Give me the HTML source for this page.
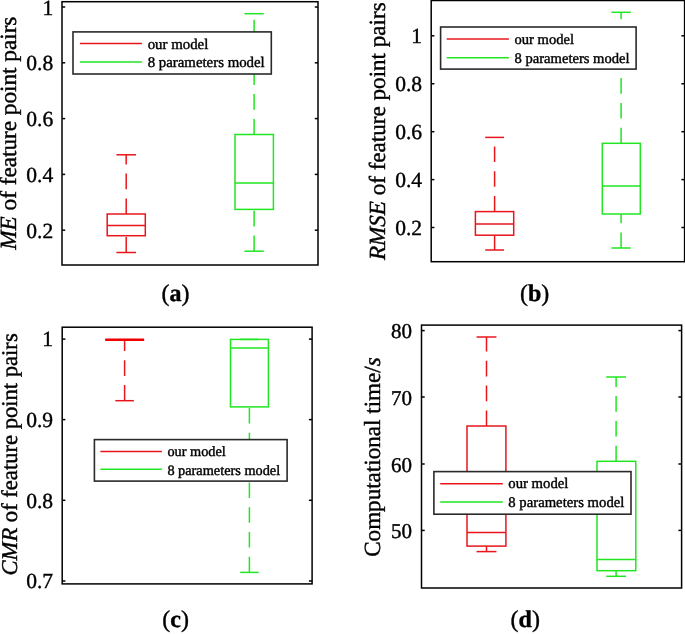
<!DOCTYPE html>
<html><head><meta charset="utf-8"><title>Boxplots</title>
<style>
html,body{margin:0;padding:0;background:#fff;width:685px;height:634px;overflow:hidden}
svg{display:block;will-change:transform}
text{text-rendering:geometricPrecision;font-family:"Liberation Serif",serif;fill:#000;stroke:#000;stroke-width:0.4px}
</style></head>
<body>
<svg width="685" height="634" viewBox="0 0 685 634">
<rect width="685" height="634" fill="#fff"/>
<rect x="62" y="1.7" width="256.0" height="263.3" fill="none" stroke="#000" stroke-width="1.5"/>
<line x1="62" y1="7" x2="65.2" y2="7" stroke="#000" stroke-width="1.5"/>
<line x1="318.0" y1="7" x2="314.8" y2="7" stroke="#000" stroke-width="1.5"/>
<text x="53.2" y="14.6" font-size="21.5" text-anchor="end">1</text>
<line x1="62" y1="62.8" x2="65.2" y2="62.8" stroke="#000" stroke-width="1.5"/>
<line x1="318.0" y1="62.8" x2="314.8" y2="62.8" stroke="#000" stroke-width="1.5"/>
<text x="53.2" y="70.4" font-size="21.5" text-anchor="end">0.8</text>
<line x1="62" y1="118.6" x2="65.2" y2="118.6" stroke="#000" stroke-width="1.5"/>
<line x1="318.0" y1="118.6" x2="314.8" y2="118.6" stroke="#000" stroke-width="1.5"/>
<text x="53.2" y="126.2" font-size="21.5" text-anchor="end">0.6</text>
<line x1="62" y1="174.4" x2="65.2" y2="174.4" stroke="#000" stroke-width="1.5"/>
<line x1="318.0" y1="174.4" x2="314.8" y2="174.4" stroke="#000" stroke-width="1.5"/>
<text x="53.2" y="182.0" font-size="21.5" text-anchor="end">0.4</text>
<line x1="62" y1="230.2" x2="65.2" y2="230.2" stroke="#000" stroke-width="1.5"/>
<line x1="318.0" y1="230.2" x2="314.8" y2="230.2" stroke="#000" stroke-width="1.5"/>
<text x="53.2" y="237.8" font-size="21.5" text-anchor="end">0.2</text>
<line x1="126.2" y1="252.5" x2="126.2" y2="235.7" stroke="#e8161c" stroke-width="1.5" stroke-dasharray="15.6 9.2"/>
<line x1="126.2" y1="214.0" x2="126.2" y2="154.8" stroke="#e8161c" stroke-width="1.5" stroke-dasharray="15.6 9.2"/>
<line x1="116.4" y1="154.8" x2="136.0" y2="154.8" stroke="#e8161c" stroke-width="1.5"/>
<line x1="116.4" y1="252.5" x2="136.0" y2="252.5" stroke="#e8161c" stroke-width="1.5"/>
<rect x="107.2" y="214.0" width="38.10000000000001" height="21.69999999999999" fill="none" stroke="#e8161c" stroke-width="1.5"/>
<line x1="107.2" y1="225.5" x2="145.3" y2="225.5" stroke="#e8161c" stroke-width="1.5"/>
<line x1="254.1" y1="251.2" x2="254.1" y2="209.4" stroke="#22e622" stroke-width="1.5" stroke-dasharray="15.6 9.2"/>
<line x1="254.1" y1="134.5" x2="254.1" y2="13.7" stroke="#22e622" stroke-width="1.5" stroke-dasharray="15.6 9.2"/>
<line x1="244.4" y1="13.7" x2="263.8" y2="13.7" stroke="#22e622" stroke-width="1.5"/>
<line x1="244.4" y1="251.2" x2="263.8" y2="251.2" stroke="#22e622" stroke-width="1.5"/>
<rect x="235.0" y="134.5" width="38.39999999999998" height="74.9" fill="none" stroke="#22e622" stroke-width="1.5"/>
<line x1="235.0" y1="183.0" x2="273.4" y2="183.0" stroke="#22e622" stroke-width="1.5"/>
<rect x="73.0" y="31.9" width="198.3" height="42.1" fill="#fff" stroke="#2a2a2a" stroke-width="1.6"/>
<line x1="79.9" y1="43.6" x2="141.9" y2="43.6" stroke="#e8161c" stroke-width="1.5"/>
<line x1="79.9" y1="61.9" x2="141.9" y2="61.9" stroke="#22e622" stroke-width="1.5"/>
<text x="147.7" y="49" font-size="14.85" text-anchor="start">our model</text>
<text x="147.7" y="67" font-size="14.85" text-anchor="start">8 parameters model</text>
<text transform="translate(16.0,249.7) rotate(-90)" font-size="23.2" text-anchor="start"><tspan font-style="italic">ME</tspan> of feature point pairs</text>
<text x="175.5" y="301" font-size="24" text-anchor="middle">(<tspan font-weight="bold">a</tspan>)</text>
<rect x="431.2" y="0.5" width="253.40000000000003" height="261.2" fill="none" stroke="#000" stroke-width="1.5"/>
<line x1="431.2" y1="35.8" x2="434.4" y2="35.8" stroke="#000" stroke-width="1.5"/>
<line x1="684.6" y1="35.8" x2="681.4" y2="35.8" stroke="#000" stroke-width="1.5"/>
<text x="422.0" y="43.1" font-size="21.5" text-anchor="end">1</text>
<line x1="431.2" y1="83.75" x2="434.4" y2="83.75" stroke="#000" stroke-width="1.5"/>
<line x1="684.6" y1="83.75" x2="681.4" y2="83.75" stroke="#000" stroke-width="1.5"/>
<text x="422.0" y="91.05" font-size="21.5" text-anchor="end">0.8</text>
<line x1="431.2" y1="131.7" x2="434.4" y2="131.7" stroke="#000" stroke-width="1.5"/>
<line x1="684.6" y1="131.7" x2="681.4" y2="131.7" stroke="#000" stroke-width="1.5"/>
<text x="422.0" y="139.0" font-size="21.5" text-anchor="end">0.6</text>
<line x1="431.2" y1="179.6" x2="434.4" y2="179.6" stroke="#000" stroke-width="1.5"/>
<line x1="684.6" y1="179.6" x2="681.4" y2="179.6" stroke="#000" stroke-width="1.5"/>
<text x="422.0" y="186.9" font-size="21.5" text-anchor="end">0.4</text>
<line x1="431.2" y1="227.5" x2="434.4" y2="227.5" stroke="#000" stroke-width="1.5"/>
<line x1="684.6" y1="227.5" x2="681.4" y2="227.5" stroke="#000" stroke-width="1.5"/>
<text x="422.0" y="234.8" font-size="21.5" text-anchor="end">0.2</text>
<line x1="494.6" y1="250.0" x2="494.6" y2="235.2" stroke="#e8161c" stroke-width="1.5" stroke-dasharray="15.6 9.2"/>
<line x1="494.6" y1="211.6" x2="494.6" y2="137.4" stroke="#e8161c" stroke-width="1.5" stroke-dasharray="15.6 9.2"/>
<line x1="485.20000000000005" y1="137.4" x2="504.0" y2="137.4" stroke="#e8161c" stroke-width="1.5"/>
<line x1="485.20000000000005" y1="250.0" x2="504.0" y2="250.0" stroke="#e8161c" stroke-width="1.5"/>
<rect x="475.4" y="211.6" width="38.30000000000007" height="23.599999999999994" fill="none" stroke="#e8161c" stroke-width="1.5"/>
<line x1="475.4" y1="223.9" x2="513.7" y2="223.9" stroke="#e8161c" stroke-width="1.5"/>
<line x1="621.1" y1="248.0" x2="621.1" y2="214.0" stroke="#22e622" stroke-width="1.5" stroke-dasharray="15.6 9.2"/>
<line x1="621.1" y1="143.3" x2="621.1" y2="12.3" stroke="#22e622" stroke-width="1.5" stroke-dasharray="15.6 9.2"/>
<line x1="611.4" y1="12.3" x2="630.8000000000001" y2="12.3" stroke="#22e622" stroke-width="1.5"/>
<line x1="611.4" y1="248.0" x2="630.8000000000001" y2="248.0" stroke="#22e622" stroke-width="1.5"/>
<rect x="602.3" y="143.3" width="38.0" height="70.69999999999999" fill="none" stroke="#22e622" stroke-width="1.5"/>
<line x1="602.3" y1="186.1" x2="640.3" y2="186.1" stroke="#22e622" stroke-width="1.5"/>
<rect x="440.6" y="27.0" width="195.5" height="42.099999999999994" fill="#fff" stroke="#2a2a2a" stroke-width="1.6"/>
<line x1="446.7" y1="38.9" x2="508.9" y2="38.9" stroke="#e8161c" stroke-width="1.5"/>
<line x1="446.7" y1="57.7" x2="508.9" y2="57.7" stroke="#22e622" stroke-width="1.5"/>
<text x="514.5" y="44" font-size="14.6" text-anchor="start">our model</text>
<text x="514.5" y="63" font-size="14.6" text-anchor="start">8 parameters model</text>
<text transform="translate(385.1,260.1) rotate(-90)" font-size="23.1" text-anchor="start"><tspan font-style="italic">RMSE</tspan> of feature point pairs</text>
<text x="534.6" y="301" font-size="24" text-anchor="middle">(<tspan font-weight="bold">b</tspan>)</text>
<rect x="62.2" y="327.2" width="249.90000000000003" height="256.7" fill="none" stroke="#000" stroke-width="1.5"/>
<line x1="62.2" y1="339.1" x2="65.4" y2="339.1" stroke="#000" stroke-width="1.5"/>
<line x1="312.1" y1="339.1" x2="308.90000000000003" y2="339.1" stroke="#000" stroke-width="1.5"/>
<text x="53.1" y="346.4" font-size="21.5" text-anchor="end">1</text>
<line x1="62.2" y1="419.6" x2="65.4" y2="419.6" stroke="#000" stroke-width="1.5"/>
<line x1="312.1" y1="419.6" x2="308.90000000000003" y2="419.6" stroke="#000" stroke-width="1.5"/>
<text x="53.1" y="426.9" font-size="21.5" text-anchor="end">0.9</text>
<line x1="62.2" y1="500.3" x2="65.4" y2="500.3" stroke="#000" stroke-width="1.5"/>
<line x1="312.1" y1="500.3" x2="308.90000000000003" y2="500.3" stroke="#000" stroke-width="1.5"/>
<text x="53.1" y="507.6" font-size="21.5" text-anchor="end">0.8</text>
<line x1="62.2" y1="581.0" x2="65.4" y2="581.0" stroke="#000" stroke-width="1.5"/>
<line x1="312.1" y1="581.0" x2="308.90000000000003" y2="581.0" stroke="#000" stroke-width="1.5"/>
<text x="53.1" y="588.3" font-size="21.5" text-anchor="end">0.7</text>
<line x1="124.6" y1="400.7" x2="124.6" y2="339.7" stroke="#e8161c" stroke-width="1.5" stroke-dasharray="15.6 9.2"/>
<line x1="115.35" y1="339.7" x2="133.85" y2="339.7" stroke="#e8161c" stroke-width="1.5"/>
<line x1="115.35" y1="400.7" x2="133.85" y2="400.7" stroke="#e8161c" stroke-width="1.5"/>
<rect x="105.3" y="339.7" width="38.8" height="0.0" fill="none" stroke="#e8161c" stroke-width="1.5"/>
<line x1="105.3" y1="339.7" x2="144.1" y2="339.7" stroke="#e8161c" stroke-width="1.5"/>
<line x1="105.3" y1="339.8" x2="144.1" y2="339.8" stroke="#f00000" stroke-width="2.6"/>
<line x1="249.4" y1="572.4" x2="249.4" y2="406.9" stroke="#22e622" stroke-width="1.5" stroke-dasharray="15.6 9.2"/>
<line x1="240.20000000000002" y1="339.4" x2="258.6" y2="339.4" stroke="#22e622" stroke-width="1.5"/>
<line x1="240.20000000000002" y1="572.4" x2="258.6" y2="572.4" stroke="#22e622" stroke-width="1.5"/>
<rect x="230.5" y="339.4" width="37.89999999999998" height="67.5" fill="none" stroke="#22e622" stroke-width="1.5"/>
<line x1="230.5" y1="348.1" x2="268.4" y2="348.1" stroke="#22e622" stroke-width="1.5"/>
<rect x="94.4" y="439.6" width="192.70000000000002" height="41.5" fill="#fff" stroke="#2a2a2a" stroke-width="1.6"/>
<line x1="100.4" y1="451.4" x2="161.9" y2="451.4" stroke="#e8161c" stroke-width="1.5"/>
<line x1="100.4" y1="469.2" x2="161.9" y2="469.2" stroke="#22e622" stroke-width="1.5"/>
<text x="167.4" y="456" font-size="14.3" text-anchor="start">our model</text>
<text x="167.4" y="475" font-size="14.3" text-anchor="start">8 parameters model</text>
<text transform="translate(17.2,575.5) rotate(-90)" font-size="22.6" text-anchor="start"><tspan font-style="italic">CMR</tspan> of feature point pairs</text>
<text x="175.6" y="627" font-size="24" text-anchor="middle">(<tspan font-weight="bold">c</tspan>)</text>
<rect x="421.5" y="325.1" width="260.1" height="262.9" fill="none" stroke="#000" stroke-width="1.5"/>
<line x1="421.5" y1="330.6" x2="424.7" y2="330.6" stroke="#000" stroke-width="1.5"/>
<line x1="681.6" y1="330.6" x2="678.4" y2="330.6" stroke="#000" stroke-width="1.5"/>
<text x="412.0" y="338.4" font-size="21" text-anchor="end">80</text>
<line x1="421.5" y1="397.0" x2="424.7" y2="397.0" stroke="#000" stroke-width="1.5"/>
<line x1="681.6" y1="397.0" x2="678.4" y2="397.0" stroke="#000" stroke-width="1.5"/>
<text x="412.0" y="404.8" font-size="21" text-anchor="end">70</text>
<line x1="421.5" y1="464.0" x2="424.7" y2="464.0" stroke="#000" stroke-width="1.5"/>
<line x1="681.6" y1="464.0" x2="678.4" y2="464.0" stroke="#000" stroke-width="1.5"/>
<text x="412.0" y="471.8" font-size="21" text-anchor="end">60</text>
<line x1="421.5" y1="530.4" x2="424.7" y2="530.4" stroke="#000" stroke-width="1.5"/>
<line x1="681.6" y1="530.4" x2="678.4" y2="530.4" stroke="#000" stroke-width="1.5"/>
<text x="412.0" y="538.2" font-size="21" text-anchor="end">50</text>
<line x1="486.5" y1="551.6" x2="486.5" y2="546.1" stroke="#e8161c" stroke-width="1.5" stroke-dasharray="15.6 9.2"/>
<line x1="486.5" y1="426.0" x2="486.5" y2="337.0" stroke="#e8161c" stroke-width="1.5" stroke-dasharray="15.6 9.2"/>
<line x1="476.55" y1="337.0" x2="496.45" y2="337.0" stroke="#e8161c" stroke-width="1.5"/>
<line x1="476.55" y1="551.6" x2="496.45" y2="551.6" stroke="#e8161c" stroke-width="1.5"/>
<rect x="467.0" y="426.0" width="38.89999999999998" height="120.10000000000002" fill="none" stroke="#e8161c" stroke-width="1.5"/>
<line x1="467.0" y1="532.4" x2="505.9" y2="532.4" stroke="#e8161c" stroke-width="1.5"/>
<line x1="616.1" y1="576.3" x2="616.1" y2="570.7" stroke="#22e622" stroke-width="1.5" stroke-dasharray="15.6 9.2"/>
<line x1="616.1" y1="461.3" x2="616.1" y2="377.0" stroke="#22e622" stroke-width="1.5" stroke-dasharray="15.6 9.2"/>
<line x1="606.2" y1="377.0" x2="626.0" y2="377.0" stroke="#22e622" stroke-width="1.5"/>
<line x1="606.2" y1="576.3" x2="626.0" y2="576.3" stroke="#22e622" stroke-width="1.5"/>
<rect x="597.0" y="461.3" width="38.799999999999955" height="109.40000000000003" fill="none" stroke="#22e622" stroke-width="1.5"/>
<line x1="597.0" y1="559.5" x2="635.8" y2="559.5" stroke="#22e622" stroke-width="1.5"/>
<rect x="433.9" y="471.6" width="197.10000000000002" height="42.60000000000002" fill="#fff" stroke="#2a2a2a" stroke-width="1.6"/>
<line x1="440.2" y1="483.8" x2="502.8" y2="483.8" stroke="#e8161c" stroke-width="1.5"/>
<line x1="440.2" y1="502.1" x2="502.8" y2="502.1" stroke="#22e622" stroke-width="1.5"/>
<text x="508.3" y="488" font-size="14.73" text-anchor="start">our model</text>
<text x="508.3" y="507" font-size="14.73" text-anchor="start">8 parameters model</text>
<text transform="translate(380.4,556.8) rotate(-90)" font-size="23.1" text-anchor="start">Computational time/<tspan font-style="italic">s</tspan></text>
<text x="525.2" y="627" font-size="24" text-anchor="middle">(<tspan font-weight="bold">d</tspan>)</text>
</svg>
</body></html>
